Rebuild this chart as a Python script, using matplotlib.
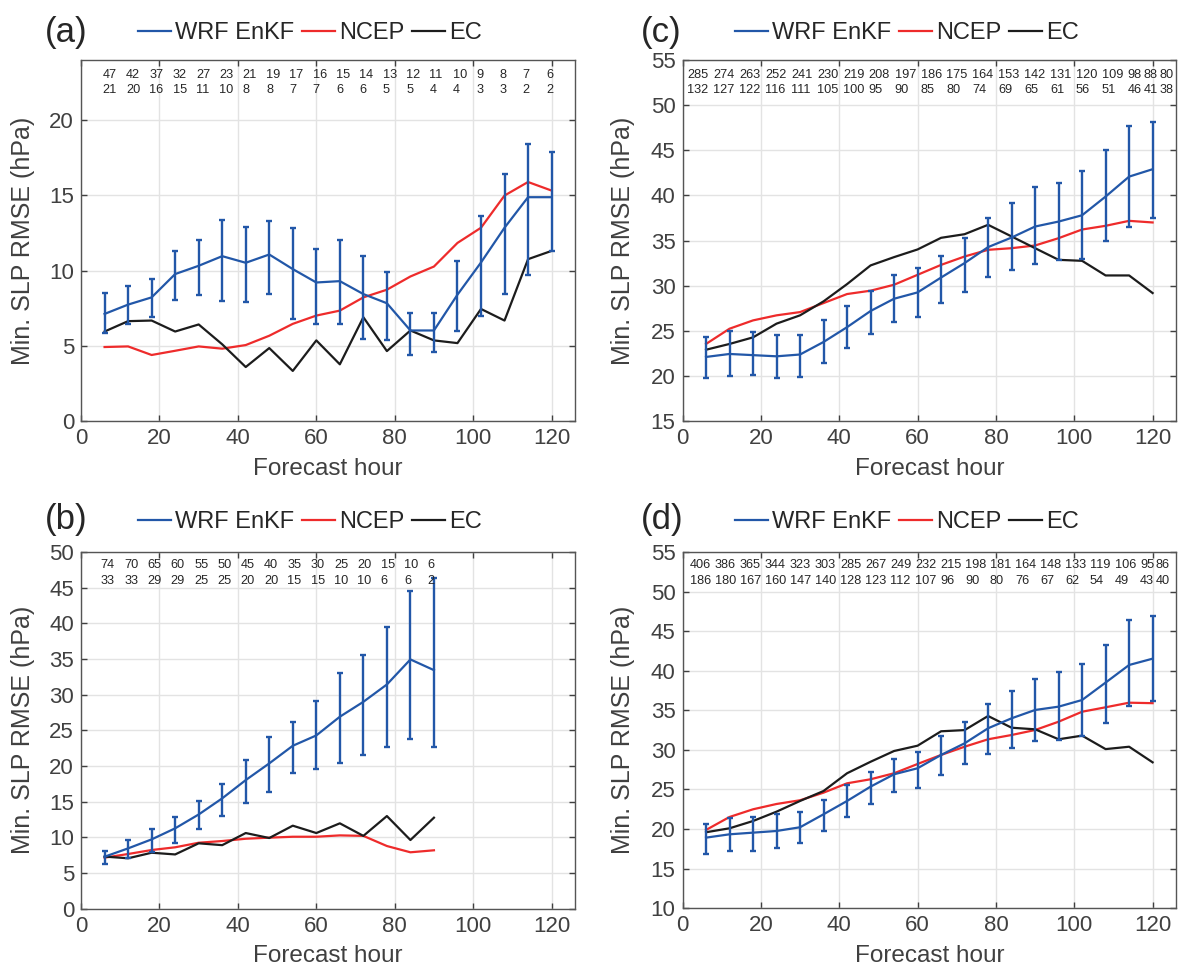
"""
Min. SLP RMSE vs forecast hour for WRF EnKF, NCEP and EC (four panels)
"""
import matplotlib
matplotlib.use('Agg')
import matplotlib.pyplot as plt
from matplotlib.lines import Line2D

plt.rcParams['font.family'] = ['Liberation Sans', 'DejaVu Sans']

# forecast hours
hours = [6, 12, 18, 24, 30, 36, 42, 48, 54, 60, 66, 72, 78, 84, 90, 96, 102, 108, 114, 120]
hours_b = [6, 12, 18, 24, 30, 36, 42, 48, 54, 60, 66, 72, 78, 84, 90]

# panel (a)
a_wrf = [7.12, 7.74, 8.22, 9.77, 10.32, 10.96, 10.52, 11.07, 10.10, 9.21,
         9.30, 8.44, 7.83, 6.02, 6.02, 8.40, 10.54, 12.85, 14.88, 14.88]
a_wrf_lo = [5.86, 6.46, 6.90, 8.07, 8.36, 7.96, 7.91, 8.44, 6.81, 6.44,
            6.42, 5.47, 5.36, 4.41, 4.56, 6.00, 6.97, 8.44, 9.74, 11.29]
a_wrf_hi = [8.49, 8.95, 9.41, 11.31, 12.04, 13.38, 12.87, 13.32, 12.83, 11.44,
            12.01, 10.98, 9.92, 7.17, 7.15, 10.65, 13.62, 16.42, 18.43, 17.88]
a_ncep = [4.92, 4.96, 4.39, 4.67, 4.96, 4.81, 5.05, 5.67, 6.46, 7.01,
          7.34, 8.22, 8.73, 9.61, 10.27, 11.84, 12.85, 14.99, 15.89, 15.32]
a_ec = [5.95, 6.64, 6.68, 5.95, 6.42, 5.10, 3.59, 4.85, 3.33, 5.36,
        3.77, 6.90, 4.65, 6.02, 5.36, 5.18, 7.45, 6.68, 10.76, 11.31]
a_top = [47, 42, 37, 32, 27, 23, 21, 19, 17, 16, 15, 14, 13, 12, 11, 10, 9, 8, 7, 6]
a_bot = [21, 20, 16, 15, 11, 10, 8, 8, 7, 7, 6, 6, 5, 5, 4, 4, 3, 3, 2, 2]

# panel (b)
b_wrf = [7.28, 8.45, 9.71, 11.26, 13.20, 15.46, 18.02, 20.36, 22.83, 24.28,
         26.90, 28.99, 31.42, 34.93, 33.43]
b_wrf_lo = [6.21, 7.15, 7.98, 9.24, 11.12, 12.98, 14.85, 16.30, 19.00, 19.52,
            20.36, 21.53, 22.69, 23.72, 22.60]
b_wrf_hi = [8.12, 9.66, 11.20, 12.84, 15.13, 17.51, 20.87, 24.05, 26.19, 29.05,
            32.97, 35.53, 39.45, 44.50, 46.36]
b_ncep = [7.15, 7.66, 8.22, 8.60, 9.24, 9.48, 9.80, 9.95, 10.08, 10.08,
          10.27, 10.20, 8.78, 7.90, 8.18]
b_ec = [7.30, 7.06, 7.84, 7.60, 9.16, 8.90, 10.60, 9.90, 11.63, 10.60,
        11.96, 10.20, 12.98, 9.62, 12.75]
b_top = [74, 70, 65, 60, 55, 50, 45, 40, 35, 30, 25, 20, 15, 10, 6]
b_bot = [33, 33, 29, 29, 25, 25, 20, 20, 15, 15, 10, 10, 6, 6, 2]

# panel (c)
c_wrf = [22.10, 22.43, 22.30, 22.17, 22.37, 23.76, 25.40, 27.19, 28.55, 29.25,
         30.90, 32.50, 34.27, 35.33, 36.55, 37.10, 37.80, 39.87, 42.08, 42.90]
c_wrf_lo = [19.74, 19.96, 20.07, 19.78, 19.93, 21.40, 23.06, 24.64, 25.97, 26.49,
            28.07, 29.29, 30.95, 31.72, 32.35, 32.86, 32.97, 34.90, 36.55, 37.55]
c_wrf_hi = [24.27, 25.00, 24.86, 24.57, 24.57, 26.15, 27.78, 29.44, 31.13, 31.94,
            33.30, 35.26, 37.55, 39.13, 40.90, 41.35, 42.67, 45.03, 47.69, 48.10]
c_ncep = [23.54, 25.23, 26.15, 26.71, 27.07, 28.07, 29.07, 29.44, 30.10, 31.20,
          32.30, 33.23, 33.97, 34.15, 34.45, 35.26, 36.22, 36.63, 37.18, 37.00]
c_ec = [22.90, 23.54, 24.27, 25.79, 26.71, 28.26, 30.17, 32.24, 33.16, 34.01,
        35.30, 35.70, 36.74, 35.45, 34.15, 32.86, 32.75, 31.13, 31.13, 29.18]
c_top = [285, 274, 263, 252, 241, 230, 219, 208, 197, 186,
         175, 164, 153, 142, 131, 120, 109, 98, 88, 80]
c_bot = [132, 127, 122, 116, 111, 105, 100, 95, 90, 85,
         80, 74, 69, 65, 61, 56, 51, 46, 41, 38]

# panel (d)
d_wrf = [18.92, 19.34, 19.55, 19.76, 20.23, 21.87, 23.55, 25.36, 26.92, 27.68,
         29.36, 30.83, 32.73, 33.99, 35.04, 35.46, 36.30, 38.50, 40.72, 41.52]
d_wrf_lo = [16.82, 17.27, 17.25, 17.58, 18.28, 19.80, 21.57, 23.13, 24.68, 25.23,
            26.83, 28.18, 29.52, 30.28, 31.16, 31.24, 31.80, 33.36, 35.58, 36.14]
d_wrf_hi = [20.64, 21.36, 21.50, 21.87, 22.16, 23.67, 25.57, 27.25, 28.85, 29.70,
            31.76, 33.52, 35.76, 37.47, 38.95, 39.84, 40.85, 43.20, 46.36, 46.95]
d_ncep = [19.89, 21.53, 22.50, 23.17, 23.64, 24.60, 25.78, 26.29, 27.05, 28.22,
          29.36, 30.40, 31.34, 31.88, 32.51, 33.56, 34.82, 35.38, 35.96, 35.90]
d_ec = [19.60, 20.10, 21.02, 22.20, 23.55, 24.81, 27.05, 28.50, 29.86, 30.53,
        32.35, 32.50, 34.28, 32.80, 32.60, 31.34, 31.80, 30.10, 30.40, 28.43]
d_top = [406, 386, 365, 344, 323, 303, 285, 267, 249, 232,
         215, 198, 181, 164, 148, 133, 119, 106, 95, 86]
d_bot = [186, 180, 167, 160, 147, 140, 128, 123, 112, 107,
         96, 90, 80, 76, 67, 62, 54, 49, 43, 40]

BLUE = '#2257a8'
RED = '#ee2b2b'
BLACK = '#1c1c1c'
GREY = '#404040'
COUNT_FS = 9.2


def draw_panel(ax, x, wrf, lo, hi, ncep, ec, top, bot, ylim, yticks,
               count_x0, slots, row_y):
    """Draw one panel: lines, error bars, grid and sample counts"""
    yerr = [[m - l for m, l in zip(wrf, lo)], [h - m for m, h in zip(wrf, hi)]]
    ax.errorbar(x, wrf, yerr=yerr, fmt='none', ecolor=BLUE, elinewidth=1.7,
                capsize=2.2, capthick=1.7, zorder=3)
    ax.plot(x, wrf, color=BLUE, lw=1.6, zorder=3)
    ax.plot(x, ncep, color=RED, lw=1.6, zorder=2)
    ax.plot(x, ec, color=BLACK, lw=1.6, zorder=2)

    ax.set_xlim(0, 126)
    ax.set_ylim(*ylim)
    ax.set_xticks([0, 20, 40, 60, 80, 100, 120])
    ax.set_yticks(yticks)
    ax.grid(True, color='#e3e3e3', lw=1.0)
    ax.set_axisbelow(True)
    ax.tick_params(direction='in', top=True, right=True, length=4,
                   width=1.0, color=GREY, labelcolor=GREY, labelsize=16, pad=5)
    for sp in ax.spines.values():
        sp.set_color('#555555')
        sp.set_linewidth(1.0)
    ax.set_xlabel('Forecast hour', fontsize=17.5, color=GREY)
    ax.set_ylabel('Min. SLP RMSE (hPa)', fontsize=18, color=GREY)

    # sample counts, laid out like a padded string along the top of the axes
    wide, narrow = slots
    offset = 0.0
    for t, b in zip(top, bot):
        for val, yy in ((t, row_y[0]), (b, row_y[1])):
            ax.annotate(str(val), xy=(count_x0, yy), xycoords='axes fraction',
                        xytext=(offset, 0), textcoords='offset points',
                        ha='left', va='center', fontsize=COUNT_FS, color='#262626')
        offset += wide if len(str(t)) >= 3 else narrow


def add_legend(ax, fig, cx, cy):
    handles = [Line2D([], [], color=BLUE, lw=1.6),
               Line2D([], [], color=RED, lw=1.6),
               Line2D([], [], color=BLACK, lw=1.6)]
    ax.legend(handles, ['WRF EnKF', 'NCEP', 'EC'], loc='center',
              bbox_to_anchor=(cx, cy), bbox_transform=fig.transFigure,
              ncol=3, frameon=False, fontsize=17, handlelength=1.4,
              handletextpad=0.15, columnspacing=0.35, labelcolor='#262626')


def main():
    fig = plt.figure(figsize=(11.78, 9.71), dpi=100)

    ax_a = fig.add_axes([0.0688, 0.5664, 0.4194, 0.3718])
    ax_c = fig.add_axes([0.5794, 0.5664, 0.4190, 0.3718])
    ax_b = fig.add_axes([0.0688, 0.0642, 0.4194, 0.3674])
    ax_d = fig.add_axes([0.5794, 0.0646, 0.4190, 0.3670])

    draw_panel(ax_a, hours, a_wrf, a_wrf_lo, a_wrf_hi, a_ncep, a_ec, a_top, a_bot,
               (0, 24), [0, 5, 10, 15, 20], 0.044, (16.8, 16.8), (0.958, 0.917))
    draw_panel(ax_b, hours_b, b_wrf, b_wrf_lo, b_wrf_hi, b_ncep, b_ec, b_top, b_bot,
               (0, 50), list(range(0, 51, 5)), 0.040, (16.8, 16.8), (0.963, 0.919))
    draw_panel(ax_c, hours, c_wrf, c_wrf_lo, c_wrf_hi, c_ncep, c_ec, c_top, c_bot,
               (15, 55), list(range(15, 56, 5)), 0.010, (18.65, 11.5), (0.958, 0.917))
    draw_panel(ax_d, hours, d_wrf, d_wrf_lo, d_wrf_hi, d_ncep, d_ec, d_top, d_bot,
               (10, 55), list(range(10, 56, 5)), 0.015, (18.0, 11.5), (0.963, 0.917))

    for ax in (ax_a, ax_b):
        ax.yaxis.set_label_coords(-0.093, 0.5)
    for ax in (ax_c, ax_d):
        ax.yaxis.set_label_coords(-0.097, 0.5)
    for ax in (ax_a, ax_b, ax_c, ax_d):
        ax.xaxis.set_label_coords(0.5, -0.103)

    add_legend(ax_a, fig, 0.263, 0.966)
    add_legend(ax_c, fig, 0.770, 0.966)
    add_legend(ax_b, fig, 0.263, 0.4624)
    add_legend(ax_d, fig, 0.770, 0.4624)

    for lab, x, y in (('(a)', 0.038, 0.967), ('(c)', 0.544, 0.967),
                      ('(b)', 0.038, 0.4645), ('(d)', 0.544, 0.4645)):
        fig.text(x, y, lab, fontsize=25, ha='left', va='center', color='#262626')

    fig.savefig('out.png', dpi=100)


if __name__ == '__main__':
    main()
